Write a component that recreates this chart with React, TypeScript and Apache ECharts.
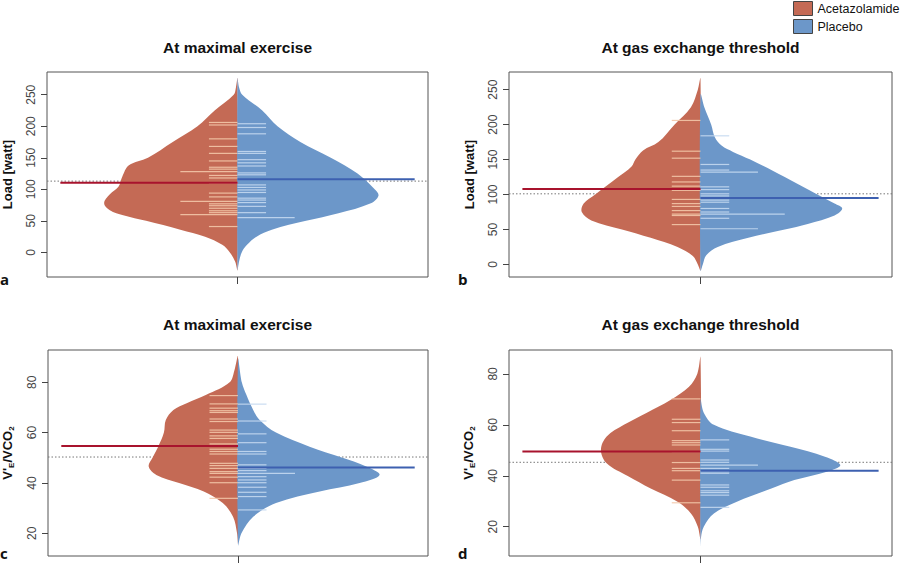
import React, { useEffect, useRef } from "react";
import * as echarts from "echarts";

const GROUPS = ["Acetazolamide", "Placebo"];
const TITLES = ["At maximal exercise", "At gas exchange threshold", "At maximal exercise", "At gas exchange threshold"];
const LETTERS = ["a", "b", "c", "d"];
const LOAD_TICKS = [0, 50, 100, 150, 200, 250];
const VE_TICKS = [20, 40, 60, 80];

// Violin outlines: [value, half width (fraction of half panel)]
const A_RED = [[276, 0], [262, 0.008], [250, 0.02], [225, 0.12], [200, 0.21], [175, 0.34], [150, 0.47], [138, 0.57], [120, 0.605], [104, 0.625], [92, 0.67], [78, 0.7], [67, 0.67], [59, 0.6], [50, 0.48], [36, 0.3], [25, 0.17], [12, 0.08], [0, 0.04], [-15, 0.012], [-28, 0]];
const A_BLUE = [[276, 0], [262, 0.008], [250, 0.025], [225, 0.13], [200, 0.21], [175, 0.33], [150, 0.49], [125, 0.63], [100, 0.72], [90, 0.74], [78, 0.7], [62, 0.53], [50, 0.36], [36, 0.18], [25, 0.1], [12, 0.05], [0, 0.022], [-15, 0.008], [-28, 0]];
const B_RED = [[266, 0], [250, 0.014], [225, 0.05], [200, 0.136], [175, 0.22], [163, 0.3], [150, 0.34], [140, 0.36], [125, 0.43], [100, 0.55], [87, 0.61], [75, 0.62], [63, 0.57], [50, 0.41], [38, 0.26], [25, 0.12], [12, 0.04], [0, 0.014], [-8, 0]];
const B_BLUE = [[243, 0], [225, 0.02], [200, 0.056], [182, 0.075], [170, 0.11], [161, 0.17], [150, 0.26], [125, 0.44], [100, 0.61], [87, 0.7], [80, 0.74], [70, 0.7], [58, 0.56], [50, 0.44], [38, 0.25], [25, 0.09], [13, 0.03], [0, 0.012], [-9, 0]];
const C_RED = [[90.2, 0], [85, 0.018], [80, 0.044], [75, 0.167], [71.7, 0.27], [69, 0.34], [65, 0.38], [60, 0.39], [54.4, 0.42], [50, 0.45], [46.5, 0.47], [43.2, 0.43], [40, 0.31], [36.6, 0.18], [32, 0.08], [26.6, 0.026], [20, 0.005], [16, 0]];
const C_BLUE = [[89, 0], [80, 0.02], [75, 0.044], [69, 0.08], [65, 0.114], [60, 0.2], [54.4, 0.377], [50, 0.55], [46.5, 0.675], [43.2, 0.745], [40, 0.64], [36.6, 0.43], [32, 0.2], [26.6, 0.08], [20, 0.018], [15.4, 0]];
const D_RED = [[86.5, 0], [80, 0.017], [75, 0.06], [69.8, 0.157], [64.8, 0.28], [60, 0.4], [55.4, 0.49], [50.1, 0.52], [44.9, 0.49], [39.9, 0.38], [35, 0.26], [29.8, 0.12], [25.2, 0.05], [20, 0.014], [15.4, 0]];
const D_BLUE = [[70, 0], [64.8, 0.017], [60, 0.07], [55.4, 0.26], [51.4, 0.47], [47.5, 0.65], [44.2, 0.73], [41.6, 0.66], [38.3, 0.49], [35, 0.37], [29.8, 0.19], [25.2, 0.07], [20, 0.017], [16, 0.003], [11.5, 0]];

// Individual observations (bean lines): [value, line length]
const A_RED_OBS = [[206, 0.15], [202, 0.15], [180, 0.15], [168, 0.15], [157, 0.15], [145, 0.15], [135, 0.15], [132, 0.15], [128, 0.3], [122, 0.15], [118, 0.15], [110, 0.15], [94, 0.15], [88, 0.15], [81, 0.3], [77, 0.15], [74, 0.15], [70, 0.15], [66, 0.15], [63, 0.15], [60, 0.3], [41, 0.15]];
const A_BLUE_OBS = [[204, 0.15], [198, 0.15], [188, 0.15], [160, 0.15], [157, 0.15], [147, 0.15], [142, 0.15], [137, 0.15], [126, 0.15], [123, 0.15], [107, 0.15], [103, 0.15], [99, 0.15], [95, 0.15], [86, 0.15], [83, 0.15], [79, 0.15], [73, 0.15], [63, 0.15], [55, 0.3]];
const B_RED_OBS = [[206, 0.15], [162, 0.15], [152, 0.15], [126, 0.15], [118, 0.15], [112, 0.15], [106, 0.15], [93, 0.15], [87, 0.15], [83, 0.15], [77, 0.15], [72, 0.15], [70, 0.15], [57, 0.15]];
const B_BLUE_OBS = [[184, 0.15], [143, 0.15], [135, 0.15], [132, 0.3], [111, 0.15], [107, 0.15], [101, 0.15], [98, 0.15], [92, 0.15], [89, 0.15], [80, 0.15], [75, 0.15], [72, 0.44], [66, 0.15], [51, 0.3]];
const C_RED_OBS = [[74.7, 0.15], [71.4, 0.15], [69.7, 0.15], [68.7, 0.15], [68, 0.15], [65.4, 0.15], [64.4, 0.15], [61, 0.15], [60.1, 0.15], [58.7, 0.15], [57.7, 0.15], [55.5, 0.15], [53.4, 0.15], [52.5, 0.15], [51.5, 0.15], [47.8, 0.15], [46.9, 0.15], [45.8, 0.15], [44.5, 0.15], [43.8, 0.15], [42.3, 0.15], [40.1, 0.15], [33.9, 0.15]];
const C_BLUE_OBS = [[71.3, 0.15], [64.6, 0.15], [59.5, 0.15], [56, 0.15], [52.5, 0.15], [51.5, 0.15], [47.2, 0.15], [45.8, 0.15], [44.9, 0.15], [43.8, 0.3], [42.5, 0.15], [41.2, 0.15], [40.1, 0.15], [38.3, 0.15], [36.3, 0.15], [34.6, 0.15], [29.3, 0.15]];
const D_RED_OBS = [[70.2, 0.15], [62.2, 0.15], [60.9, 0.15], [57.7, 0.15], [53.8, 0.15], [53, 0.15], [52.1, 0.15], [49.5, 0.15], [45.2, 0.15], [42.9, 0.15], [42, 0.15], [38.3, 0.15], [29.4, 0.15]];
const D_BLUE_OBS = [[54.1, 0.15], [50.4, 0.15], [49.7, 0.15], [46.2, 0.15], [45.3, 0.15], [44.2, 0.3], [42.9, 0.15], [41.6, 0.15], [41, 0.15], [36.4, 0.15], [35.5, 0.15], [34.1, 0.15], [33.4, 0.15], [32.4, 0.15], [27.6, 0.15]];

// Group means and overall mean per panel
const RED_MEANS = [110.5, 108, 54.7, 49.5];
const BLUE_MEANS = [115.8, 95, 46.1, 42];
const OVERALL_MEANS = [113, 101, 50.3, 45.3];

const RED = "#c46a55";
const BLUE = "#6c97c9";
const RED_LINE = "#f3c7a8";
const BLUE_LINE = "#c4d8ef";
const RED_MEAN = "#a8132d";
const BLUE_MEAN = "#3d60b0";
const FONT = "'Liberation Sans', Arial, sans-serif";

const GRIDS = [
  { left: 47, top: 72, width: 381, height: 205 },
  { left: 509, top: 72, width: 383, height: 205 },
  { left: 47, top: 350, width: 381, height: 206 },
  { left: 509, top: 350, width: 383, height: 206 },
];
const Y_RANGES = [[-39, 286], [-18, 275.3], [11, 92.8], [8.5, 89.4]];

export default function App() {
  const ref = useRef<HTMLDivElement>(null);
  useEffect(() => {
    const chart = echarts.init(ref.current!, null, { renderer: "svg" });
    const outlines = [[A_RED, A_BLUE], [B_RED, B_BLUE], [C_RED, C_BLUE], [D_RED, D_BLUE]];
    const obs = [[A_RED_OBS, A_BLUE_OBS], [B_RED_OBS, B_BLUE_OBS], [C_RED_OBS, C_BLUE_OBS], [D_RED_OBS, D_BLUE_OBS]];
    const series: any[] = [];
    for (let i = 0; i < 4; i++) {
      // overall mean (dotted)
      series.push({
        type: "line", xAxisIndex: i, yAxisIndex: i, z: 1, silent: true,
        data: [[-1, OVERALL_MEANS[i]], [1, OVERALL_MEANS[i]]],
        symbol: "none", lineStyle: { color: "#777", width: 1, type: [1.5, 2] },
      });
      [0, 1].forEach((g) => {
        const side = g === 0 ? -1 : 1;
        const color = g === 0 ? RED : BLUE;
        const outline = outlines[i][g];
        series.push({
          type: "custom", name: GROUPS[g], xAxisIndex: i, yAxisIndex: i, z: 2, silent: true,
          itemStyle: { color },
          data: outline.map(([v, w]) => [side * w, v]),
          encode: { x: 0, y: 1 },
          renderItem: (params: any, api: any) => {
            if (params.dataIndex !== 0) return null;
            const pts = outline.map(([v, w]) => api.coord([side * w, v]));
            return { type: "polygon", shape: { points: pts, smooth: 0.35 }, style: { fill: color } };
          },
        });
        const lineColor = g === 0 ? RED_LINE : BLUE_LINE;
        series.push({
          type: "custom", xAxisIndex: i, yAxisIndex: i, z: 3, silent: true,
          data: obs[i][g].map(([v, l]) => [side * l, v]),
          encode: { x: 0, y: 1 },
          renderItem: (params: any, api: any) => {
            const x = api.value(0);
            const v = api.value(1);
            const p0 = api.coord([0, v]);
            const p1 = api.coord([x, v]);
            return { type: "line", shape: { x1: p0[0], y1: p0[1], x2: p1[0], y2: p1[1] }, style: { stroke: lineColor, lineWidth: 1.2, opacity: 0.9 } };
          },
        });
        const means = g === 0 ? RED_MEANS : BLUE_MEANS;
        series.push({
          type: "line", xAxisIndex: i, yAxisIndex: i, z: 4, silent: true,
          data: [[0, means[i]], [side * 0.93, means[i]]],
          symbol: "none", lineStyle: { color: g === 0 ? RED_MEAN : BLUE_MEAN, width: 2 },
        });
      });
    }
    const isLoad = (i: number) => i < 2;
    chart.setOption({
      animation: false,
      backgroundColor: "#fff",
      textStyle: { fontFamily: FONT },
      title: GRIDS.map((g, i) => ({
        text: TITLES[i], left: g.left + g.width / 2, top: i < 2 ? 39 : 316, textAlign: "center", padding: 0,
        textStyle: { fontSize: 15.5, fontWeight: "bold", color: "#111", fontFamily: FONT },
      })),
      legend: {
        data: GROUPS, orient: "vertical", left: 793, top: 1, padding: 0, itemGap: 3,
        itemWidth: 19, itemHeight: 14, icon: "rect", selectedMode: false,
        itemStyle: { borderColor: "#444", borderWidth: 1 },
        textStyle: { fontSize: 12.5, color: "#111", fontFamily: FONT, padding: [0, 0, 0, 0] },
      },
      grid: GRIDS.map((g) => ({ ...g, show: true, borderColor: "#555", borderWidth: 1, containLabel: false })),
      xAxis: GRIDS.map((_, i) => ({
        gridIndex: i, type: "value", min: -1, max: 1, position: "bottom",
        splitLine: { show: false }, axisLine: { show: false, onZero: false }, axisLabel: { show: false },
        axisTick: { show: true, length: 7, customValues: [0], lineStyle: { color: "#444" } },
      })),
      yAxis: GRIDS.map((_, i) => ({
        gridIndex: i, type: "value", min: Y_RANGES[i][0], max: Y_RANGES[i][1], position: "left",
        splitLine: { show: false }, axisLine: { show: false, onZero: false },
        axisTick: { show: true, length: 6, customValues: isLoad(i) ? LOAD_TICKS : VE_TICKS, lineStyle: { color: "#444" } },
        axisLabel: { customValues: isLoad(i) ? LOAD_TICKS : VE_TICKS, rotate: 90, fontSize: 12, color: "#444", margin: 10, fontFamily: FONT },
        name: isLoad(i) ? "Load [watt]" : "{n|V'}{s|E}{n|/VCO}{s|2}",
        nameLocation: "middle", nameGap: 33,
        nameTextStyle: {
          fontWeight: "bold", fontSize: 13, color: "#111", fontFamily: FONT,
          rich: {
            n: { fontWeight: "bold", fontSize: 13, color: "#111", fontFamily: FONT },
            s: { fontWeight: "bold", fontSize: 8, color: "#111", fontFamily: FONT, padding: [7, 0, 0, 0] },
          },
        },
      })),
      graphic: LETTERS.map((t, i) => ({
        type: "text", x: i % 2 === 0 ? 0 : 458, y: i < 2 ? 279 : 553, z: 10,
        style: { text: t, font: "bold 15px 'Open Sans', sans-serif", fill: "#111", textVerticalAlign: "middle" },
      })),
      series,
    });
    return () => chart.dispose();
  }, []);
  return <div ref={ref} style={{ position: "absolute", left: 0, top: 0, width: 900, height: 565 }} />;
}
